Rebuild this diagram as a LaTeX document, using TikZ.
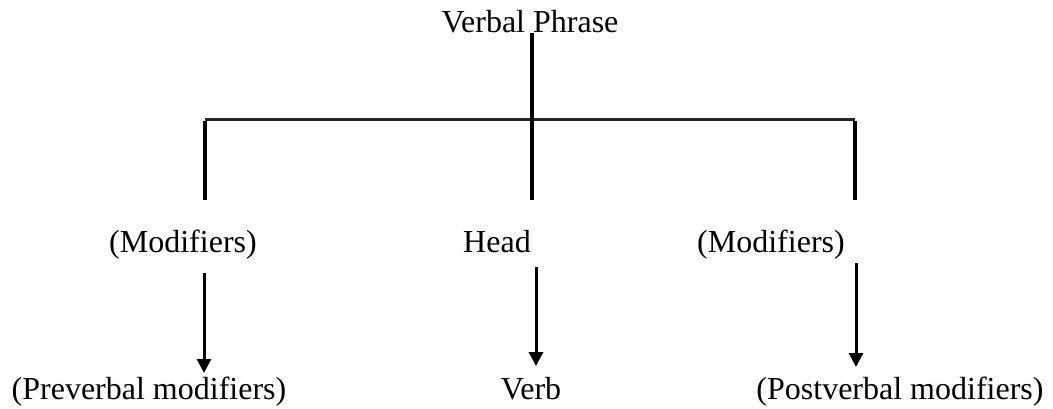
\documentclass[tikz,border=0pt]{standalone}
\usepackage{fontspec}
\setmainfont{Liberation Serif}
\usetikzlibrary{arrows.meta}
\begin{document}
\begin{tikzpicture}[x=1pt,y=-1pt,
  label/.style={font=\fontsize{32}{38}\selectfont, inner sep=0pt, anchor=base},
  branch/.style={line width=3.6pt},
  bar/.style={line width=3pt, draw=black!85},
  down/.style={line width=3pt, -{Triangle[width=14pt,length=14pt]}}]
  \useasboundingbox (0,0) rectangle (1053,408);

  % labels
  \node[label] (vp)   at (530,32)  {Verbal Phrase};
  \node[label] (lmod) at (183,252) {(Modifiers)};
  \node[label] (head) at (497,252) {Head};
  \node[label] (rmod) at (771,252) {(Modifiers)};
  \node[label] (pre)  at (149,399) {(Preverbal modifiers)};
  \node[label] (verb) at (531,399) {Verb};
  \node[label] (post) at (900,399) {(Postverbal modifiers)};

  % tree joints
  \coordinate (top)  at (532,33);
  \coordinate (jl)   at (205,119);
  \coordinate (jm)   at (532,119);
  \coordinate (jr)   at (855,119);
  \coordinate (el)   at (205,200);
  \coordinate (em)   at (532,200);
  \coordinate (er)   at (855,200);

  % arrow ends
  \coordinate (al)   at (204,273);
  \coordinate (am)   at (536,267);
  \coordinate (ar)   at (856,263);
  \coordinate (tl)   at (204,373);
  \coordinate (tm)   at (536,366);
  \coordinate (tr)   at (856,367);

  % branches
  \draw[bar] (jl) -- (jr);
  \draw[branch] (top) -- (em);
  \draw[branch] ([yshift=-1.5pt]jl) -- (el);
  \draw[branch] ([yshift=-1.5pt]jr) -- (er);

  % arrows to the realisations
  \draw[down] (al) -- (tl);
  \draw[down] (am) -- (tm);
  \draw[down] (ar) -- (tr);
\end{tikzpicture}
\end{document}
